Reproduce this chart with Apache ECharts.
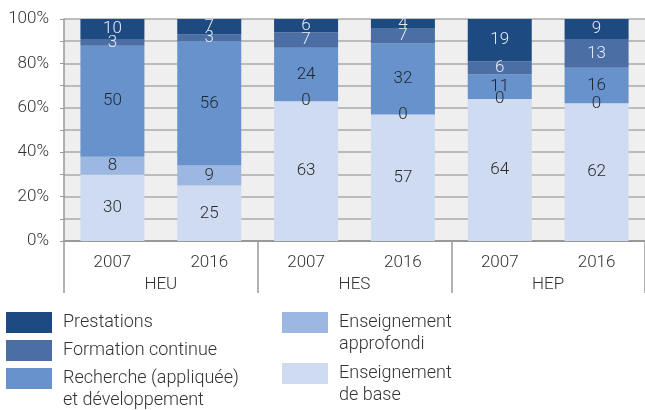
<!DOCTYPE html>
<html>
<head>
<meta charset="utf-8">
<script src="https://cdn.jsdelivr.net/npm/echarts@6/dist/echarts.min.js"></script>
<style>
    html, body { margin: 0; padding: 0; background: #fff; }
    #chart { width: 645px; height: 410px; }
</style>
</head>
<body>
<div id="chart"></div>
<script>
var groups = ['HEU', 'HES', 'HEP'];
var years = ['2007', '2016', '2007', '2016', '2007', '2016'];

var base = [30, 25, 63, 57, 64, 62];
var approfondi = [8, 9, 0, 0, 0, 0];
var recherche = [50, 56, 24, 32, 11, 16];
var formation = [3, 3, 7, 7, 6, 13];
var prestations = [10, 7, 6, 4, 19, 9];

var yTicks = [0, 20, 40, 60, 80, 100];

var names = ['Enseignement de base', 'Enseignement approfondi', 'Recherche (appliquée) et développement',
    'Formation continue', 'Prestations'];
var colors = ['#cfdbf1', '#9cb7e1', '#6792cc', '#4b6fa5', '#1d4a80'];
var labelColors = ['#2a2a2a', '#2a2a2a', '#1e2530', '#e4eaf4', '#e4eaf4'];
var values = [base, approfondi, recherche, formation, prestations];

// unique keys so the category axis keeps all six bars
var cats = years.map(function (y, i) { return groups[Math.floor(i / 2)] + ' ' + y; });

var font = 'Roboto, "Noto Sans", sans-serif';

var myChart = echarts.init(document.getElementById('chart'));

var series = names.map(function (n, i) {
    return {
        name: n,
        type: 'bar',
        stack: 'total',
        barWidth: 64,
        xAxisIndex: 0,
        itemStyle: { color: colors[i] },
        label: {
            show: true,
            position: 'inside',
            fontSize: 17,
            fontFamily: font,
            fontWeight: 300,
            color: labelColors[i]
        },
        data: values[i]
    };
});

// one legend per item so the two-line labels can sit like the original
function legendItem(name, left, top) {
    return {
        data: [name],
        left: left,
        top: top,
        padding: 0,
        orient: 'vertical',
        selectedMode: false,
        icon: 'rect',
        itemWidth: 46,
        itemHeight: 21,
        formatter: function (n) {
            // leading blank line keeps the first line level with the swatch
            if (n === names[0]) return '\nEnseignement\nde base';
            if (n === names[1]) return '\nEnseignement\napprofondi';
            if (n === names[2]) return '\nRecherche (appliquée)\net développement';
            return n;
        },
        textStyle: {
            fontSize: 18,
            fontFamily: font,
            fontWeight: 300,
            color: '#333',
            lineHeight: 22,
            padding: [0, 0, 0, 6]
        }
    };
}

var option = {
    animation: false,
    grid: {
        left: 64,
        right: -1,
        top: 19,
        bottom: 169,
        show: true,
        backgroundColor: '#efefef',
        borderWidth: 0
    },
    legend: [
        legendItem(names[4], 6, 311.5),
        legendItem(names[3], 6, 339.5),
        legendItem(names[2], 6, 345.5),
        legendItem(names[1], 282, 289.5),
        legendItem(names[0], 282, 340.5)
    ],
    xAxis: [
        {
            type: 'category',
            data: cats,
            axisLine: { lineStyle: { color: '#999', width: 2 } },
            axisTick: { show: false },
            axisLabel: {
                margin: 13,
                fontSize: 17,
                fontFamily: font,
                fontWeight: 300,
                color: '#333',
                formatter: function (v) { return v.split(' ')[1]; }
            }
        },
        {
            type: 'category',
            data: groups,
            position: 'bottom',
            axisLine: { show: false },
            axisTick: { show: true, length: 52, interval: 0, lineStyle: { color: '#999', width: 1.5 } },
            axisLabel: {
                margin: 35,
                fontSize: 17,
                fontFamily: font,
                fontWeight: 300,
                color: '#333'
            }
        }
    ],
    yAxis: {
        type: 'value',
        min: 0,
        max: 100,
        interval: 10,
        axisLine: { show: true, lineStyle: { color: '#999', width: 1.5 } },
        axisTick: { show: true, length: 4, lineStyle: { color: '#999' } },
        splitLine: { lineStyle: { color: '#aaa', width: 1.5 } },
        axisLabel: {
            margin: 15,
            fontSize: 17,
            fontFamily: font,
            fontWeight: 300,
            color: '#333',
            formatter: function (v) { return yTicks.indexOf(v) >= 0 ? v + '%' : ''; }
        }
    },
    series: series
};

myChart.setOption(option);
</script>
</body>
</html>
